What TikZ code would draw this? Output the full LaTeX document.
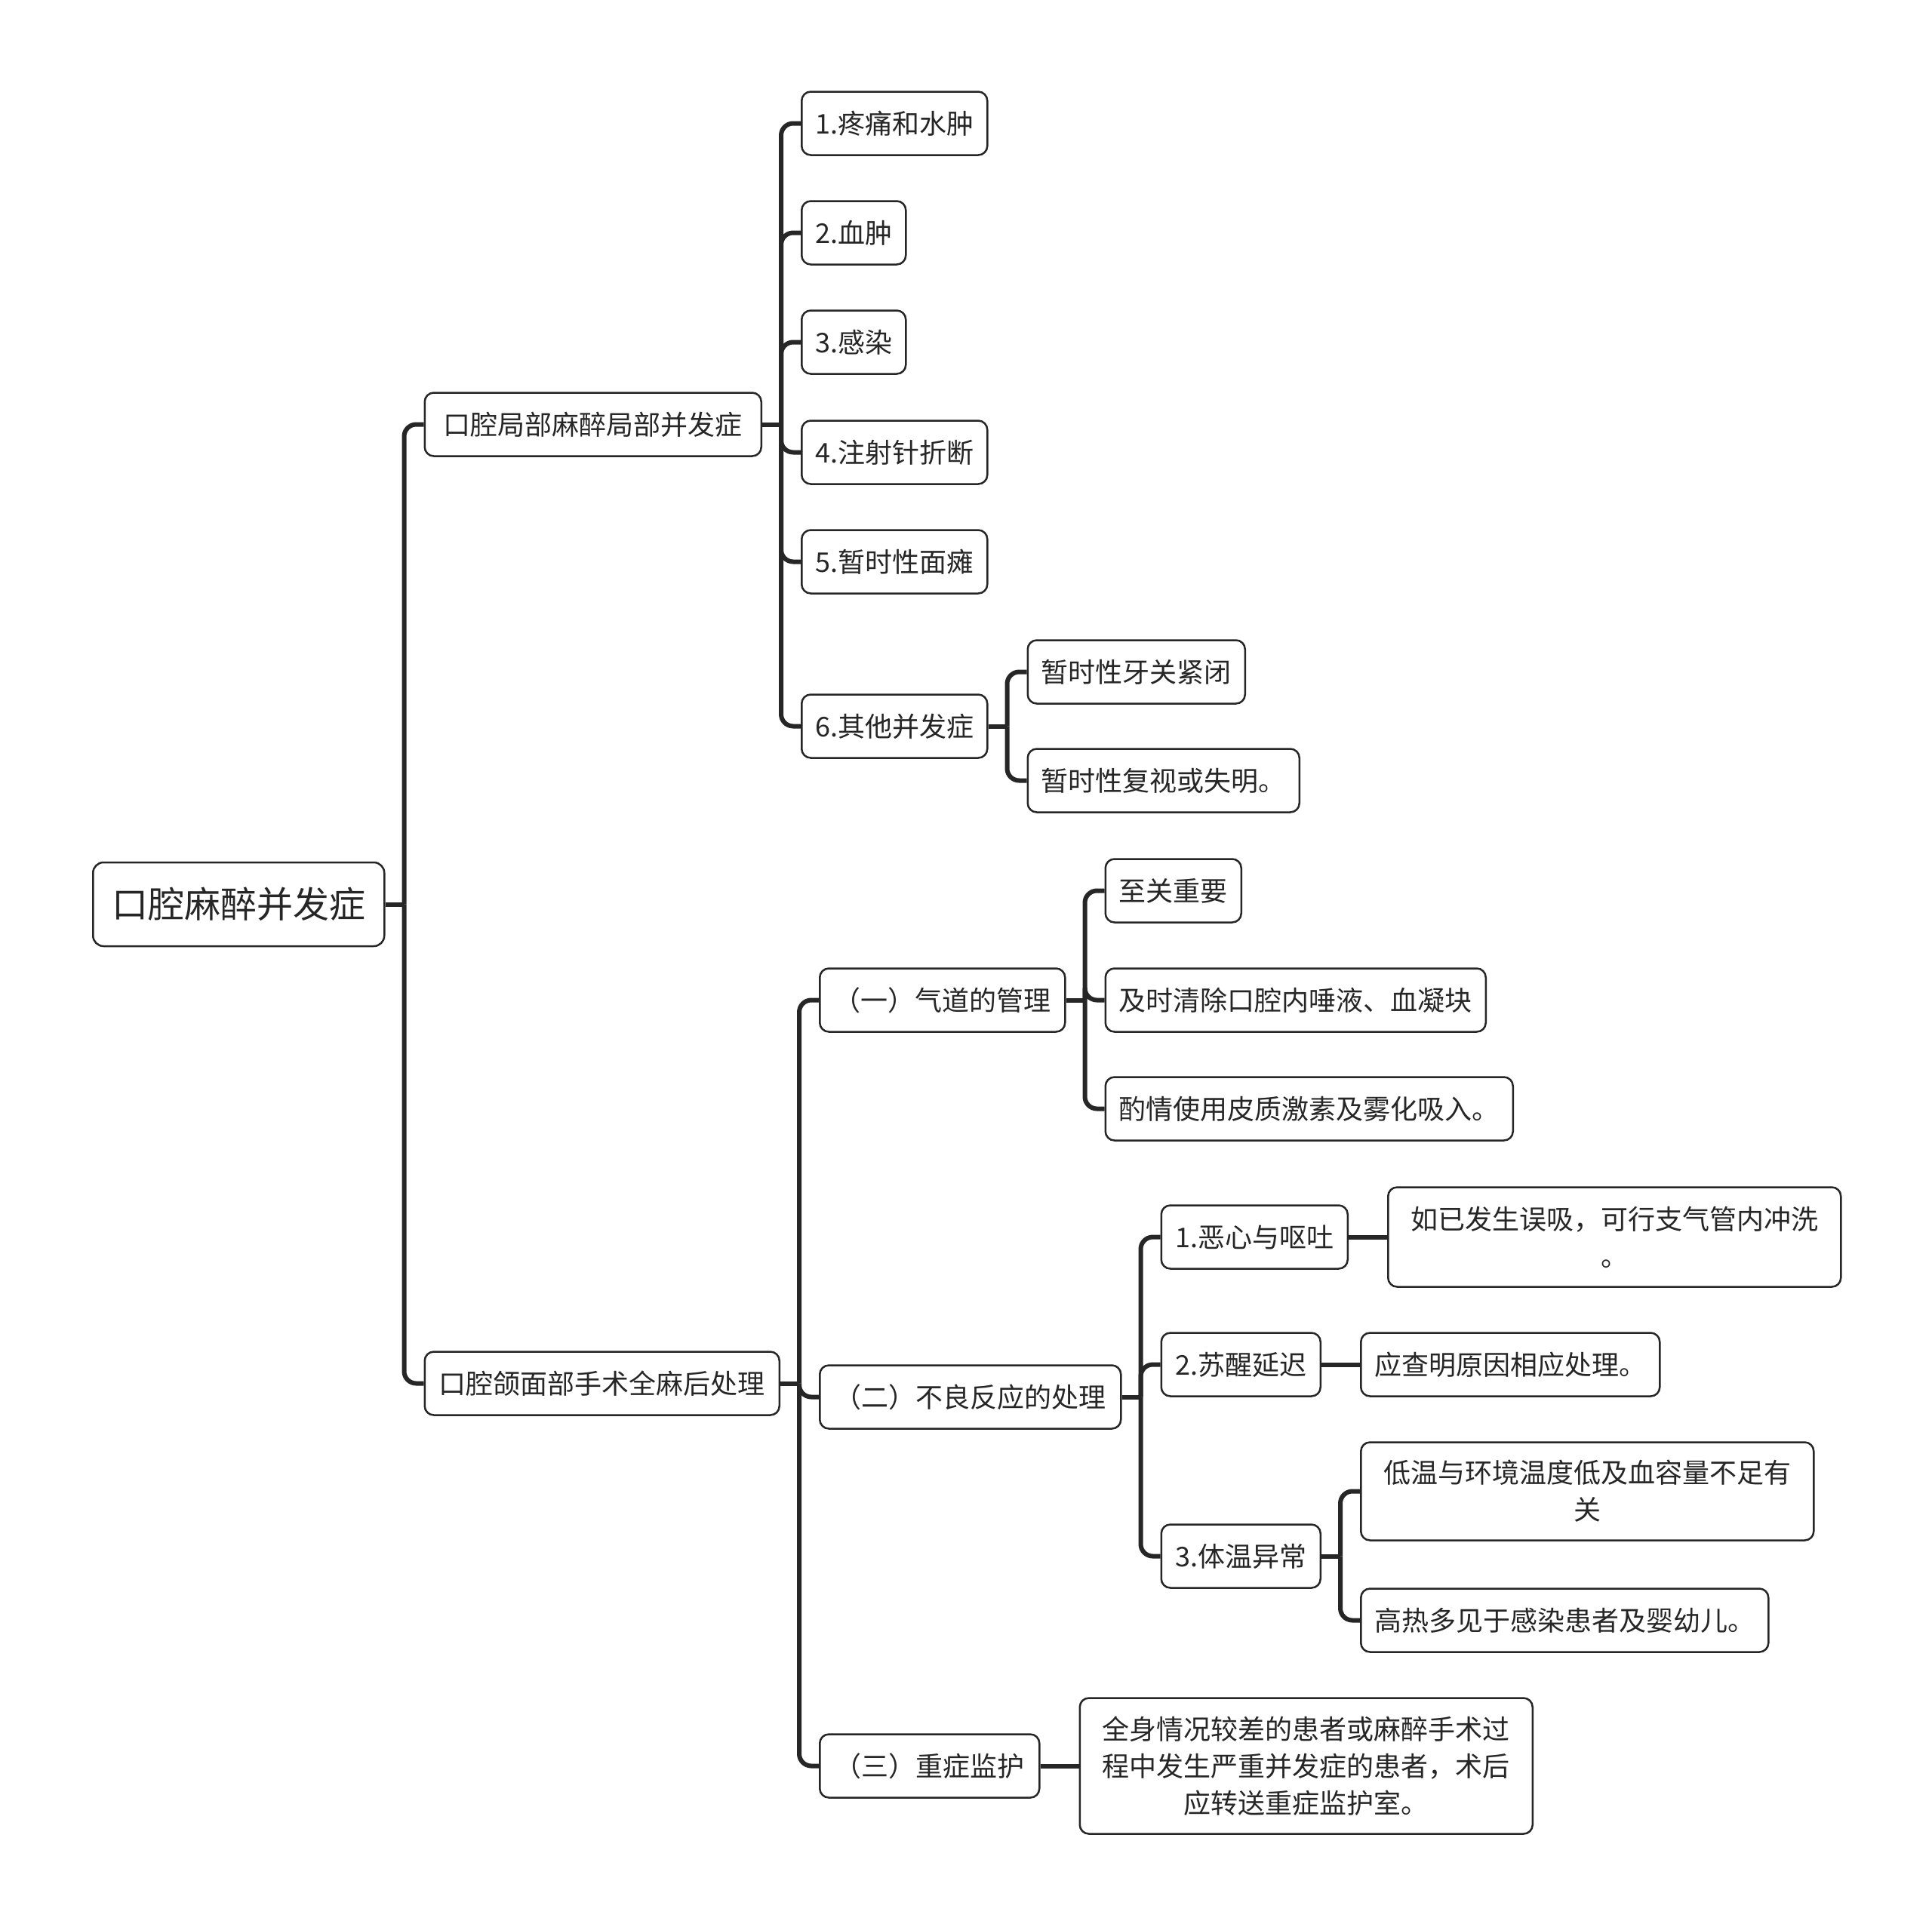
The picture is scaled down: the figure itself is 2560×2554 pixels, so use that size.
\documentclass[tikz,border=0pt]{standalone}
\usepackage{fontspec}
\usepackage{tikz}
\usetikzlibrary{positioning}
\newfontfamily\cjk{Noto Sans CJK SC}
\definecolor{ink}{RGB}{38,38,38}
\tikzset{
    topic/.style={rectangle,draw=ink,line width=2.5pt,rounded corners=14pt,fill=white,text=ink,inner xsep=25pt,inner ysep=0pt,minimum height=111pt,font=\cjk\fontsize{48}{60}\selectfont},
    item/.style={rectangle,draw=ink,line width=2.5pt,rounded corners=12pt,fill=white,text=ink,inner xsep=18pt,inner ysep=0pt,minimum height=84pt,align=center,font=\cjk\fontsize{36}{49}\selectfont},
    link/.style={draw=ink,line width=6pt},
    fork/.style={link,rounded corners=16pt},
}

\begin{document}
\begin{tikzpicture}[x=1pt,y=-1pt,node distance=51pt]
\useasboundingbox[fill=white] (0,0) rectangle (2560,2554);
\node[topic,anchor=west] (root) at (122,1198.5) {口腔麻醉并发症};
\node[item,right=of root,yshift=636pt,minimum width=446pt] (loc) {口腔局部麻醉局部并发症};
\node[item,right=of root,yshift=-635pt,minimum width=470pt] (gen) {口腔颌面部手术全麻后处理};

\node[item,right=of loc,yshift=399pt]  (loc1) {1.疼痛和水肿};
\node[item,right=of loc,yshift=254pt]  (loc2) {2.血肿};
\node[item,right=of loc,yshift=109pt]  (loc3) {3.感染};
\node[item,right=of loc,yshift=-37pt]  (loc4) {4.注射针折断};
\node[item,right=of loc,yshift=-182pt] (loc5) {5.暂时性面瘫};
\node[item,right=of loc,yshift=-400pt] (loc6) {6.其他并发症};
\node[item,right=of loc6,yshift=72pt]  (oth1) {暂时性牙关紧闭};
\node[item,right=of loc6,yshift=-72pt] (oth2) {暂时性复视或失明。};

\node[item,right=of gen,yshift=508pt,minimum width=325pt]  (air) {（一）气道的管理};
\node[item,right=of gen,yshift=-18pt,minimum width=399pt]  (adv) {（二）不良反应的处理};
\node[item,right=of gen,yshift=-507pt,minimum width=291pt] (icu) {（三）重症监护};
\node[item,right=of air,yshift=145pt]  (air1) {至关重要};
\node[item,right=of air]               (air2) {及时清除口腔内唾液、血凝块};
\node[item,right=of air,yshift=-144pt] (air3) {酌情使用皮质激素及雾化吸入。};
\node[item,right=of adv,yshift=212pt,minimum width=247pt]  (adv1) {1.恶心与呕吐};
\node[item,right=of adv,yshift=43pt,minimum width=211pt]   (adv2) {2.苏醒延迟};
\node[item,right=of adv,yshift=-211pt,minimum width=211pt] (adv3) {3.体温异常};
\node[item,right=of adv1,minimum width=600pt,minimum height=132pt] (adv1a) {如已发生误吸，可行支气管内冲洗\\。};
\node[item,right=of adv2] (adv2a) {应查明原因相应处理。};
\node[item,right=of adv3,yshift=86pt,minimum width=600pt,minimum height=130pt] (adv3a) {低温与环境温度低及血容量不足有\\关};
\node[item,right=of adv3,yshift=-85pt] (adv3b) {高热多见于感染患者及婴幼儿。};
\node[item,right=of icu,minimum width=600pt,minimum height=180pt] (icua) {全身情况较差的患者或麻醉手术过\\程中发生严重并发症的患者，术后\\应转送重症监护室。};

\draw[link] (root.east) -- ++(25,0) coordinate (root-t);
\draw[fork] (root-t) |- (loc.west);
\draw[fork] (root-t) |- (gen.west);

\draw[link] (loc.east) -- ++(25,0) coordinate (loc-t);
\draw[fork] (loc-t) |- (loc1.west);
\draw[fork] (loc-t) |- (loc2.west);
\draw[fork] (loc-t) |- (loc3.west);
\draw[fork] (loc-t) |- (loc4.west);
\draw[fork] (loc-t) |- (loc5.west);
\draw[fork] (loc-t) |- (loc6.west);
\draw[link] (loc6.east) -- ++(25,0) coordinate (loc6-t);
\draw[fork] (loc6-t) |- (oth1.west);
\draw[fork] (loc6-t) |- (oth2.west);

\draw[link] (gen.east) -- ++(25,0) coordinate (gen-t);
\draw[fork] (gen-t) |- (air.west);
\draw[fork] (gen-t) |- (adv.west);
\draw[fork] (gen-t) |- (icu.west);
\draw[link] (air.east) -- ++(25,0) coordinate (air-t);
\draw[fork] (air-t) |- (air1.west);
\draw[fork] (air-t) |- (air2.west);
\draw[fork] (air-t) |- (air3.west);
\draw[link] (adv.east) -- ++(25,0) coordinate (adv-t);
\draw[fork] (adv-t) |- (adv1.west);
\draw[fork] (adv-t) |- (adv2.west);
\draw[fork] (adv-t) |- (adv3.west);
\draw[link] (adv1.east) -- (adv1a.west);
\draw[link] (adv2.east) -- (adv2a.west);
\draw[link] (adv3.east) -- ++(25,0) coordinate (adv3-t);
\draw[fork] (adv3-t) |- (adv3a.west);
\draw[fork] (adv3-t) |- (adv3b.west);
\draw[link] (icu.east) -- (icua.west);
\end{tikzpicture}
\end{document}
